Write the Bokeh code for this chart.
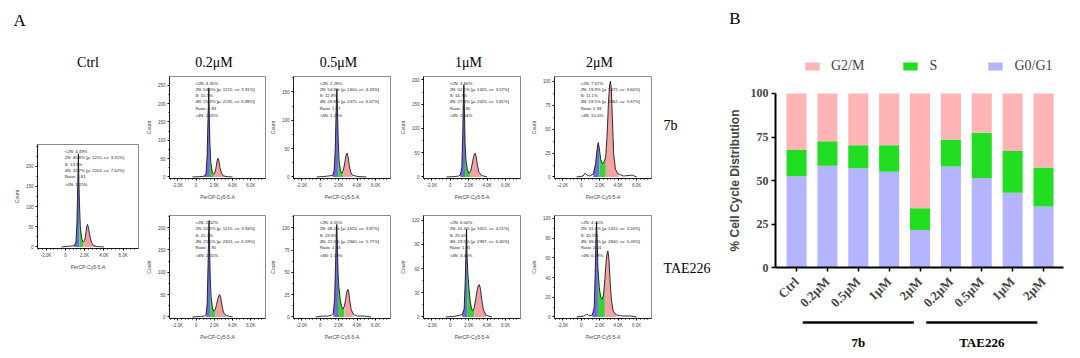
import numpy as np
from bokeh.plotting import figure
from bokeh.layouts import row, column, Spacer
from bokeh.models import FixedTicker, Legend, LegendItem, ColumnDataSource
from bokeh.embed import file_html
from bokeh.resources import INLINE
from bokeh.core.properties import value

# ---------------- Panel B data ----------------
conditions = ["Ctrl", "0.2μM", "0.5μM", "1μM", "2μM", "0.2μM", "0.5μM", "1μM", "2μM"]
g0g1 = [52.5, 58.5, 57.0, 55.0, 21.5, 58.0, 51.5, 43.0, 35.0]
s_phase = [15.0, 14.0, 13.3, 15.3, 12.5, 15.5, 26.0, 24.0, 22.5]
g2m = [32.5, 27.5, 29.7, 29.7, 66.0, 26.5, 22.5, 33.0, 42.5]
groups = ["7b", "TAE226"]
group_first = [1, 5]
group_last = [4, 8]
pct_ticks = [0, 25, 50, 75, 100]

# ---------------- Panel A data ----------------
col_titles = ["Ctrl", "0.2μM", "0.5μM", "1μM", "2μM"]
row_labels = ["7b", "TAE226"]
x_tick_vals = [-2, 0, 2, 4, 6]
x_tick_text = ["-2.0K", "0", "2.0K", "4.0K", "6.0K"]

ctrl_x = [-0.4, 0.4, 0.9, 1.1, 1.2, 1.28, 1.35, 1.4, 1.46, 1.55, 1.7, 1.85, 2.0, 2.12, 2.22, 2.3, 2.4, 2.52, 2.7, 2.9, 3.3, 4.0]
ctrl_y = [0, 2, 3, 12, 60, 150, 231, 165, 110, 50, 20, 12, 16, 32, 50, 56, 48, 30, 12, 4, 1, 0]
ctrl_bounds = [0.9, 1.46, 1.85, 3.3]
ctrl_top = 254
ctrl_yticks = [0, 50, 100, 150, 200]
ctrl_stats = ["<2N: 4.49%", "2N: 45.8%   [μ: 1215, cv: 3.31%]", "S: 13.9%",
              "4N: 32.7%   [μ: 2203, cv: 7.62%]", "Ratio: 1.81", ">4N: 1.15%"]

b7_02_x = [-0.4, 0.4, 0.9, 1.1, 1.22, 1.32, 1.4, 1.46, 1.52, 1.62, 1.78, 1.95, 2.1, 2.22, 2.32, 2.4, 2.5, 2.62, 2.8, 3.0, 3.4, 4.0]
b7_02_y = [0, 1, 2, 10, 60, 170, 243, 160, 90, 40, 12, 8, 14, 30, 46, 51, 44, 26, 10, 3, 1, 0]
b7_02_bounds = [0.9, 1.52, 1.95, 3.4]
b7_02_top = 274
b7_02_yticks = [0, 50, 100, 150, 200, 250]
b7_02_stats = ["<2N: 4.35%", "2N: 54.0%   [μ: 1215, cv: 3.91%]", "S: 15.5%",
               "4N: 25.9%   [μ: 2235, cv: 6.88%]", "Ratio: 1.83", ">4N: 2.05%"]

b7_05_x = [-0.4, 0.5, 1.0, 1.35, 1.5, 1.62, 1.72, 1.8, 1.87, 1.95, 2.05, 2.2, 2.35, 2.5, 2.65, 2.78, 2.9, 3.0, 3.12, 3.3, 3.5, 4.0, 5.0]
b7_05_y = [0, 1, 2, 3, 12, 50, 120, 155, 110, 60, 25, 10, 7, 12, 25, 38, 42, 36, 22, 8, 3, 1, 0]
b7_05_bounds = [1.35, 1.95, 2.5, 3.5]
b7_05_top = 177
b7_05_yticks = [0, 50, 100, 150]
b7_05_stats = ["<2N: 2.28%", "2N: 54.8%   [μ: 1300, cv: 4.33%]", "S: 12.8%",
               "4N: 28.8%   [μ: 2375, cv: 6.67%]", "Ratio: 1.87", ">4N: 1.19%"]

b7_1_x = [-0.4, 0.5, 0.9, 1.1, 1.25, 1.35, 1.42, 1.47, 1.53, 1.6, 1.7, 1.85, 2.0, 2.2, 2.35, 2.5, 2.6, 2.7, 2.8, 2.92, 3.1, 3.4, 4.0]
b7_1_y = [0, 1, 2, 4, 20, 90, 160, 190, 140, 70, 35, 15, 8, 12, 25, 40, 47, 49, 42, 26, 10, 3, 0]
b7_1_bounds = [1.1, 1.6, 2.2, 3.4]
b7_1_top = 207
b7_1_yticks = [0, 50, 100, 150, 200]
b7_1_stats = ["<2N: 3.80%", "2N: 52.5%   [μ: 1325, cv: 3.57%]", "S: 14.7%",
              "4N: 27.9%   [μ: 2425, cv: 5.81%]", "Ratio: 1.85", ">4N: 2.04%"]

b7_2_x = [-0.5, 0.2, 0.4, 0.6, 0.9, 1.3, 1.55, 1.72, 1.83, 1.95, 2.1, 2.3, 2.5, 2.65, 2.8, 2.95, 3.07, 3.16, 3.25, 3.37, 3.5, 3.7, 4.0, 4.6, 5.5, 6.0]
b7_2_y = [0, 1, 4, 2, 1, 3, 14, 30, 36, 30, 18, 14, 16, 22, 45, 80, 96, 100, 92, 60, 25, 8, 3, 1, 2, 0]
b7_2_bounds = [1.3, 1.95, 2.65, 4.0]
b7_2_top = 105
b7_2_yticks = [0, 25, 50, 75, 100]
b7_2_stats = ["<2N: 7.67%", "2N: 19.9%   [μ: 1475, cv: 4.60%]", "S: 11.1%",
              "4N: 59.5%   [μ: 2862, cv: 5.67%]", "Ratio: 1.93", ">4N: 10.4%"]

tae_02_x = [-0.4, 0.5, 0.9, 1.1, 1.22, 1.32, 1.38, 1.43, 1.49, 1.56, 1.65, 1.8, 1.95, 2.1, 2.25, 2.4, 2.5, 2.6, 2.7, 2.82, 3.0, 3.3, 4.0]
tae_02_y = [0, 1, 2, 5, 30, 120, 190, 216, 150, 85, 45, 20, 13, 16, 28, 42, 48, 50, 44, 28, 10, 3, 0]
tae_02_bounds = [1.1, 1.56, 2.1, 3.3]
tae_02_top = 227
tae_02_yticks = [0, 50, 100, 150, 200]
tae_02_stats = ["<2N: 2.52%", "2N: 55.2%   [μ: 1215, cv: 3.84%]", "S: 15.3%",
                "4N: 25.5%   [μ: 2301, cv: 6.59%]", "Ratio: 1.91", ">4N: 2.55%"]

tae_05_x = [-0.5, 0.3, 0.8, 1.2, 1.4, 1.55, 1.68, 1.75, 1.79, 1.85, 1.92, 2.0, 2.15, 2.3, 2.45, 2.6, 2.75, 2.87, 2.98, 3.08, 3.2, 3.35, 3.6, 4.0, 4.8, 5.5]
tae_05_y = [0, 1, 1, 2, 4, 20, 70, 100, 104, 80, 52, 35, 20, 12, 9, 12, 20, 28, 31, 28, 18, 8, 3, 1, 1, 0]
tae_05_bounds = [1.4, 1.92, 2.6, 3.6]
tae_05_top = 114
tae_05_yticks = [0, 25, 50, 75, 100]
tae_05_stats = ["<2N: 4.55%", "2N: 48.2%   [μ: 1620, cv: 3.87%]", "S: 23.8%",
                "4N: 22.0%   [μ: 2940, cv: 5.77%]", "Ratio: 1.83", ">4N: 1.19%"]

tae_1_x = [-0.5, 0.5, 1.0, 1.3, 1.5, 1.62, 1.7, 1.76, 1.82, 1.9, 2.0, 2.15, 2.3, 2.45, 2.6, 2.75, 2.9, 3.02, 3.16, 3.28, 3.42, 3.6, 3.9, 4.5]
tae_1_y = [0, 1, 2, 3, 10, 45, 85, 109, 75, 55, 38, 20, 10, 8, 12, 22, 33, 39, 40, 34, 20, 8, 2, 0]
tae_1_bounds = [1.3, 1.82, 2.6, 3.9]
tae_1_top = 126
tae_1_yticks = [0, 30, 60, 90, 120]
tae_1_stats = ["<2N: 6.00%", "2N: 41.3%   [μ: 1652, cv: 4.21%]", "S: 25.6%",
               "4N: 29.5%   [μ: 2987, cv: 6.45%]", "Ratio: 1.81", ">4N: 3.40%"]

tae_2_x = [-0.5, 0.3, 0.6, 0.9, 1.2, 1.4, 1.52, 1.6, 1.65, 1.72, 1.8, 1.95, 2.1, 2.25, 2.4, 2.55, 2.68, 2.8, 2.88, 2.98, 3.1, 3.25, 3.45, 3.8, 4.5, 5.3, 6.0]
tae_2_y = [0, 1, 3, 1, 2, 10, 50, 85, 96, 80, 50, 30, 20, 18, 22, 38, 56, 65, 67, 60, 40, 18, 6, 2, 1, 1, 0]
tae_2_bounds = [1.2, 1.8, 2.55, 3.8]
tae_2_top = 103
tae_2_yticks = [0, 20, 40, 60, 80, 100]
tae_2_stats = ["<2N: 4.40%", "2N: 31.4%   [μ: 1415, cv: 3.24%]", "S: 20.5%",
               "4N: 39.6%   [μ: 2840, cv: 5.03%]", "Ratio: 2.01", ">4N: 0.89%"]

# ---------------- styles ----------------
SERIF = "Liberation Serif"
SANS = "Liberation Sans"
C_G1_FILL = "#6c6ce0"
C_S_FILL = "#3ccf3c"
C_G2_FILL = "#f2a2a2"
BAR_G0G1 = "#b4b4ff"
BAR_S = "#22dd22"
BAR_G2M = "#ffb5b5"
XR_H = (-2.9, 7.6)
STAT_OFFS = [7, 13.3, 19.6, 25.9, 32.2, 40]
PAGE_PAD = 8


def make_hist(xs, ys, bounds, ytop, yticks, stats, w, h, ml, mr, mt, mb):
    ystart = -0.015 * ytop
    p = figure(width=w, height=h, x_range=XR_H, y_range=(ystart, ytop),
               output_backend="svg", toolbar_location=None,
               min_border_left=ml, min_border_right=mr,
               min_border_top=mt, min_border_bottom=mb)
    xs = np.array(xs, dtype=float)
    ys = np.array(ys, dtype=float)
    b0, b1, b2, b3 = bounds
    for lo, hi, col in [(b0, b1, C_G1_FILL), (b1, b2, C_S_FILL), (b2, b3, C_G2_FILL)]:
        m = (xs >= lo) & (xs <= hi)
        p.varea(x=xs[m], y1=np.zeros(m.sum()), y2=ys[m], fill_color=col)
    p.line(xs, ys, line_color="black", line_width=0.8)
    fh = h - mt - mb
    tx = XR_H[0] + 0.27 * (XR_H[1] - XR_H[0])
    ty = [ytop - o / fh * (ytop - ystart) for o in STAT_OFFS]
    p.text(x=[tx] * len(stats), y=ty, text=stats, text_font_size="4.3px",
           text_font=value(SANS), text_baseline="middle", text_color="#222222")
    p.grid.visible = False
    p.outline_line_color = "#8a8a8a"
    p.xaxis.ticker = FixedTicker(ticks=x_tick_vals,
                                 minor_ticks=[-2.8 + 0.4 * i for i in range(27)])
    p.xaxis.major_label_overrides = {v: t for v, t in zip(x_tick_vals, x_tick_text)}
    step = yticks[1] - yticks[0]
    p.yaxis.ticker = FixedTicker(ticks=yticks,
                                 minor_ticks=[step / 2 * i for i in range(int(2 * ytop / step) + 1)])
    p.xaxis.axis_label = "PerCP-Cy5-5-A"
    p.yaxis.axis_label = "Count"
    for ax in p.axis:
        ax.major_label_text_font_size = "4.5px"
        ax.major_label_text_font = SANS
        ax.axis_label_text_font_size = "5px"
        ax.axis_label_text_font = SANS
        ax.axis_label_text_font_style = "normal"
        ax.major_tick_out = 2
        ax.major_tick_in = 0
        ax.minor_tick_out = 1
        ax.minor_tick_in = 0
        ax.major_label_standoff = 2
        ax.axis_label_standoff = 3
        ax.axis_line_width = 0.8
    return p


# ---------------- Panel A layout ----------------
TOP_W = [124, 130, 131, 127]
TOP_ML = [20, 20, 20, 20]
TOP_MR = [1, 6, 7, 3]
HDR_H = 64

top_data = [
    (b7_02_x, b7_02_y, b7_02_bounds, b7_02_top, b7_02_yticks, b7_02_stats),
    (b7_05_x, b7_05_y, b7_05_bounds, b7_05_top, b7_05_yticks, b7_05_stats),
    (b7_1_x, b7_1_y, b7_1_bounds, b7_1_top, b7_1_yticks, b7_1_stats),
    (b7_2_x, b7_2_y, b7_2_bounds, b7_2_top, b7_2_yticks, b7_2_stats),
]
bot_data = [
    (tae_02_x, tae_02_y, tae_02_bounds, tae_02_top, tae_02_yticks, tae_02_stats),
    (tae_05_x, tae_05_y, tae_05_bounds, tae_05_top, tae_05_yticks, tae_05_stats),
    (tae_1_x, tae_1_y, tae_1_bounds, tae_1_top, tae_1_yticks, tae_1_stats),
    (tae_2_x, tae_2_y, tae_2_bounds, tae_2_top, tae_2_yticks, tae_2_stats),
]

top_figs = [make_hist(*d, w=TOP_W[i], h=130, ml=TOP_ML[i], mr=TOP_MR[i], mt=4, mb=22)
            for i, d in enumerate(top_data)]
bot_figs = [make_hist(*d, w=TOP_W[i], h=148, ml=TOP_ML[i], mr=TOP_MR[i], mt=13, mb=32)
            for i, d in enumerate(bot_data)]

CTRL_W = 134
ctrl_fig = make_hist(ctrl_x, ctrl_y, ctrl_bounds, ctrl_top, ctrl_yticks, ctrl_stats,
                     w=CTRL_W, h=134, ml=29, mr=4, mt=4, mb=26)
ctrl_col = column(Spacer(width=CTRL_W, height=68), ctrl_fig, Spacer(width=CTRL_W, height=76))

grid_col = column(row(*top_figs), row(*bot_figs))

grid_w = sum(TOP_W)
LAB_W = 714 - CTRL_W - grid_w
lab = figure(width=LAB_W, height=278, x_range=(0, LAB_W), y_range=(278, 0),
             output_backend="svg", toolbar_location=None, min_border=0,
             x_axis_location=None, y_axis_location=None, outline_line_color=None)
lab.grid.visible = False
lab.text(x=[9, 9], y=[53, 196], text=row_labels, text_font=value(SERIF),
         text_font_size="14px", text_baseline="middle", text_align="left", text_color="black")

# header with panel letter and column titles
frame_centers = [29 + 101 / 2]
xpos = CTRL_W
for i in range(4):
    fw = TOP_W[i] - TOP_ML[i] - TOP_MR[i]
    frame_centers.append(xpos + TOP_ML[i] + fw / 2)
    xpos += TOP_W[i]
hdr = figure(width=714, height=HDR_H, x_range=(0, 714), y_range=(HDR_H, 0),
             output_backend="svg", toolbar_location=None, min_border=0,
             x_axis_location=None, y_axis_location=None, outline_line_color=None)
hdr.grid.visible = False
hdr.text(x=[5], y=[12], text=["A"], text_font=value(SERIF), text_font_size="17px",
         text_baseline="middle", text_align="left", text_color="black")
hdr.text(x=frame_centers, y=[54] * 5, text=col_titles, text_font=value(SERIF),
         text_font_size="14px", text_baseline="middle", text_align="center", text_color="black")

panelA = column(hdr, row(ctrl_col, grid_col, lab))

# ---------------- Panel B ----------------
BW, BH = 350, 342
XL, XR = -2.40, 8.94
YB, YT = -47.7, 148.85


def cx(px):
    return XL + px / BW * (XR - XL)


def cy(py):
    return YT - py / BH * (YT - YB)


pb = figure(width=BW, height=BH, x_range=(XL, XR), y_range=(YB, YT),
            output_backend="svg", toolbar_location=None, min_border=0,
            outline_line_color=None)
pb.grid.visible = False
src = ColumnDataSource(dict(x=list(range(len(conditions))), g0g1=g0g1, s=s_phase, g2m=g2m))
rs = pb.vbar_stack(["g0g1", "s", "g2m"], x="x", width=0.65, source=src,
                   color=[BAR_G0G1, BAR_S, BAR_G2M], line_color=None)

y_axis_x = -0.68
x_end = 8.65
pb.yaxis.fixed_location = y_axis_x
pb.yaxis.bounds = (0, 100)
pb.yaxis.ticker = FixedTicker(ticks=pct_ticks)
pb.yaxis.axis_label = "% Cell Cycle Distribution"
pb.yaxis.axis_label_text_font = SANS
pb.yaxis.axis_label_text_font_style = "bold"
pb.yaxis.axis_label_text_font_size = "12px"
pb.yaxis.axis_label_standoff = 6
pb.xaxis.fixed_location = 0
pb.xaxis.bounds = (y_axis_x, x_end)
pb.xaxis.ticker = FixedTicker(ticks=list(range(len(conditions))))
pb.xaxis.major_label_overrides = {i: c for i, c in enumerate(conditions)}
pb.xaxis.major_label_orientation = np.pi / 4
for ax in pb.axis:
    ax.major_label_text_font = SERIF
    ax.major_label_text_font_style = "bold"
    ax.major_label_text_font_size = "12px"
    ax.axis_line_width = 2
    ax.major_tick_line_width = 1.5
    ax.major_tick_out = 4
    ax.major_tick_in = 0
    ax.minor_tick_out = 0
    ax.minor_tick_in = 0
    ax.major_label_standoff = 3
pb.xaxis.major_label_text_font_size = "13px"
pb.xaxis.major_label_standoff = 8

# group bars under the x labels
gx0 = [f - 0.8 for f in group_first]
gx1 = [l - 0.2 for l in group_last]
line_y = cy(314)
pb.segment(x0=gx0, y0=[line_y] * 2, x1=gx1, y1=[line_y] * 2, line_width=2.5, line_color="black")
pb.text(x=[(a + b) / 2 for a, b in zip(gx0, gx1)], y=[cy(334)] * 2, text=groups,
        text_font=value(SERIF), text_font_style="bold", text_font_size="13px",
        text_align="center", text_baseline="middle", text_color="black")
pb.text(x=[cx(12.5)], y=[cy(10)], text=["B"], text_font=value(SERIF), text_font_size="17px",
        text_align="center", text_baseline="middle", text_color="black")

legend = Legend(items=[LegendItem(label="G2/M", renderers=[rs[2]]),
                       LegendItem(label="S", renderers=[rs[1]]),
                       LegendItem(label="G0/G1", renderers=[rs[0]])],
                orientation="horizontal", location=(81, 276),
                glyph_width=18, glyph_height=10, label_standoff=10, spacing=37,
                padding=0, margin=0, border_line_color=None, background_fill_alpha=0,
                label_text_font=SERIF, label_text_font_size="14px")
pb.add_layout(legend)

page = column(Spacer(width=1072, height=PAGE_PAD),
              row(Spacer(width=PAGE_PAD, height=BH), panelA, pb))
open("out.html", "w").write(file_html(page, INLINE))
